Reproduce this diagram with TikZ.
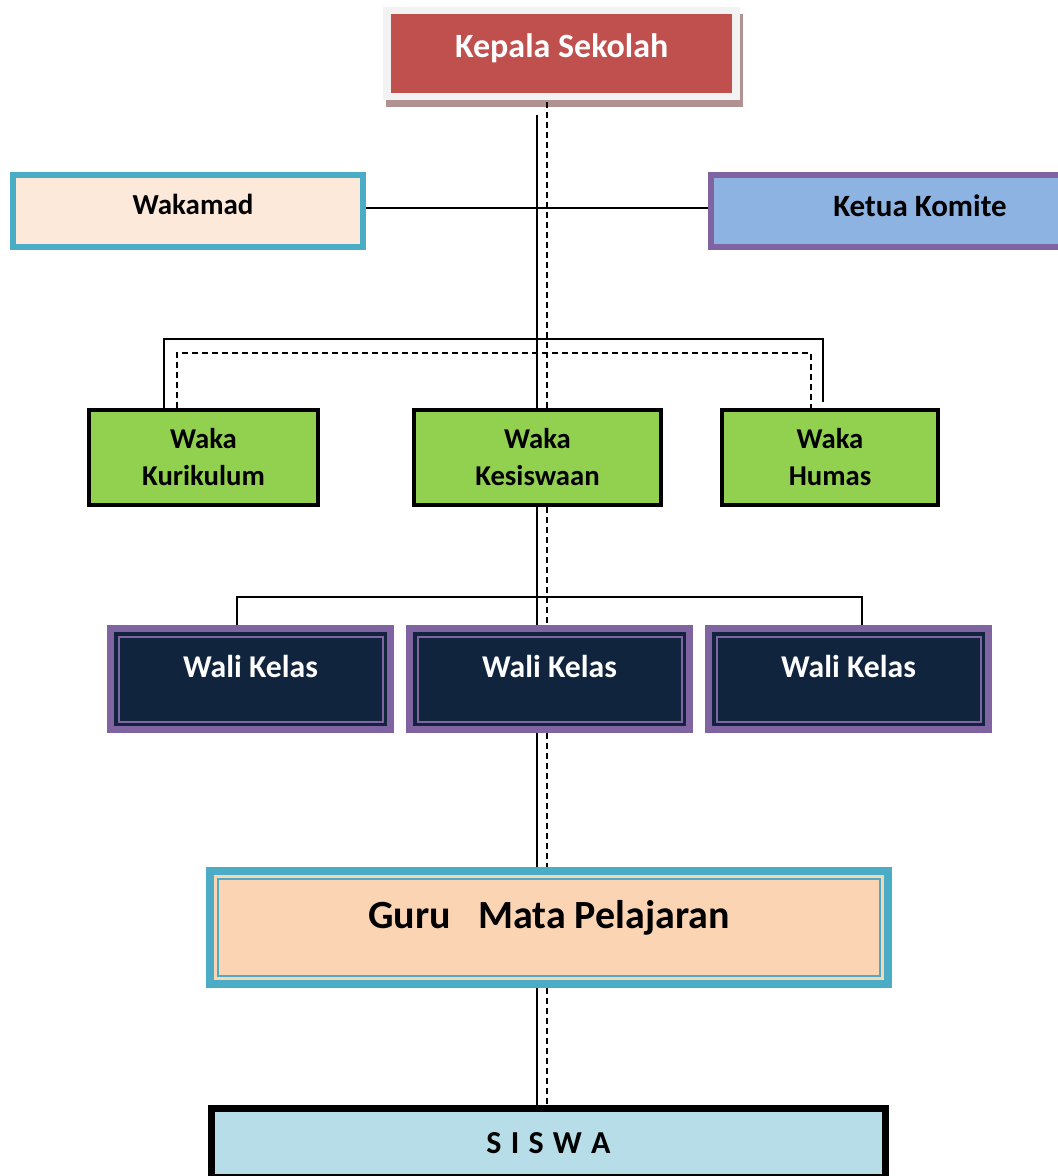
\documentclass[tikz,border=0pt]{standalone}
\usepackage{fontspec}
\setmainfont{Carlito}
\usetikzlibrary{calc}
\definecolor{kepalared}{HTML}{C0504D}
\definecolor{kepalaframe}{HTML}{F2F2F2}
\definecolor{kepalashadow}{HTML}{B09292}
\definecolor{tealline}{HTML}{4BACC6}
\definecolor{lightpeach}{HTML}{FDE9D9}
\definecolor{purpleline}{HTML}{8064A2}
\definecolor{skyfill}{HTML}{8DB3E2}
\definecolor{wakagreen}{HTML}{92D050}
\definecolor{navyfill}{HTML}{10243E}
\definecolor{gurupeach}{HTML}{FBD4B4}
\definecolor{siswablue}{HTML}{B7DDE8}
\tikzset{
  boxnode/.style = {rectangle, align=center, inner sep=0pt},
  headnode/.style = {boxnode, fill=kepalared, draw=kepalaframe, line width=7.5pt,
    text=white, minimum width=349pt, minimum height=86pt,
    font=\bfseries\fontsize{34}{40}\selectfont, text height=22pt, text depth=14pt,
    preaction={draw=kepalashadow, fill=kepalashadow,
      transform canvas={shift={(3pt,-7pt)}}}},
  sidenode/.style = {boxnode, line width=6pt, minimum height=72pt},
  wakanode/.style = {boxnode, fill=wakagreen, draw=black, line width=4pt,
    minimum height=95pt, font=\bfseries\fontsize{28.7}{37}\selectfont},
  walinode/.style = {boxnode, fill=navyfill, draw=purpleline, line width=7pt,
    text=white, minimum width=280pt, minimum height=101pt,
    font=\bfseries\fontsize{31.7}{38}\selectfont, text height=20.4pt, text depth=24pt,
    path picture={\draw[purpleline, line width=2pt]
      ([shift={(8pt,8pt)}]path picture bounding box.south west) rectangle
      ([shift={(-8pt,-8pt)}]path picture bounding box.north east);}},
  gurunode/.style = {boxnode, fill=gurupeach, draw=tealline, line width=8pt,
    minimum width=678pt, minimum height=113pt,
    font=\bfseries\fontsize{40}{48}\selectfont, text height=25.8pt, text depth=24pt,
    path picture={\draw[tealline, line width=2.5pt]
      ([shift={(8pt,8pt)}]path picture bounding box.south west) rectangle
      ([shift={(-8pt,-8pt)}]path picture bounding box.north east);}},
  siswanode/.style = {boxnode, fill=siswablue, draw=black, line width=7pt,
    minimum width=674pt, minimum height=69pt,
    font=\bfseries\fontsize{32}{38}\selectfont},
  dashline/.style = {dash pattern=on 6pt off 4pt},
}

\begin{document}
\begin{tikzpicture}[x=1pt,y=-1pt,line width=1.8pt]
  \useasboundingbox (0,0) rectangle (1058,1176);
  \node [headnode] (kepala) at (561.7,53.4) {Kepala Sekolah};
  \node [sidenode, fill=lightpeach, draw=tealline, minimum width=350pt,
    font=\bfseries\fontsize{29}{35}\selectfont, text height=18.7pt, text depth=12pt]
    (wakamad) at (188,211) {\hspace*{10pt}Wakamad};
  \node [sidenode, fill=skyfill, draw=purpleline, minimum width=418pt,
    font=\bfseries\fontsize{31}{37}\selectfont, text height=20pt, text depth=9pt]
    (ketua) at (920,211) {Ketua Komite};
  \node [wakanode, minimum width=229pt] (kurikulum) at (203.5,457.5) {Waka\\Kurikulum};
  \node [wakanode, minimum width=247pt] (kesiswaan) at (537.5,457.5) {Waka\\Kesiswaan};
  \node [wakanode, minimum width=216pt] (humas) at (830,457.5) {Waka\\Humas};
  \node [walinode] (wali1) at (250.5,679) {Wali Kelas};
  \node [walinode] (wali2) at (549.5,679) {Wali Kelas};
  \node [walinode] (wali3) at (848.5,679) {Wali Kelas};
  \node [gurunode] (guru) at (549,927.5) {Guru\ \ \ Mata Pelajaran};
  \node [siswanode] (siswa) at (548.5,1143) {S\kern2pt\ I\kern2pt\ S\kern2pt\ W\kern2pt\ A};

  \coordinate (sline) at (537,0);
  \coordinate (dline) at (547,0);
  \coordinate (kurs) at (164,339);
  \coordinate (humss) at (823,339);
  \coordinate (kurd) at (177,353);
  \coordinate (humd) at (811,353);
  \coordinate (walil) at (237,597);
  \coordinate (walir) at (861.7,597);

  \draw ([yshift=3pt]wakamad.east) -- ([yshift=3pt]ketua.west);
  \draw [shorten <=15pt] (kepala.south -| sline) -- (kesiswaan.north -| sline);
  \draw [dashline, shorten <=2pt] (kepala.south -| dline) -- (kesiswaan.north -| dline);
  \draw (kurikulum.north -| kurs) -- (kurs) -- (humss) -- ([yshift=6pt]humas.north -| humss);
  \draw [dashline] (kurikulum.north -| kurd) -- (kurd) -- (humd) -- (humas.north -| humd);
  \draw (kesiswaan.south -| sline) -- (wali2.north -| sline);
  \draw [dashline] (kesiswaan.south -| dline) -- (wali2.north -| dline);
  \draw (wali1.north -| walil) -- (walil) -- (walir) -- (wali3.north -| walir);
  \draw (wali2.south -| sline) -- (guru.north -| sline);
  \draw [dashline] (wali2.south -| dline) -- (guru.north -| dline);
  \draw (guru.south -| sline) -- (siswa.north -| sline);
  \draw [dashline] (guru.south -| dline) -- (siswa.north -| dline);
\end{tikzpicture}
\end{document}
